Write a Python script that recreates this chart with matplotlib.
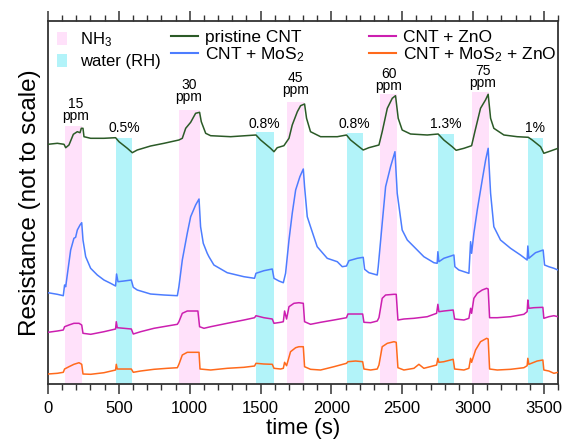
import matplotlib
matplotlib.use('Agg')
import matplotlib.pyplot as plt
from matplotlib.patches import Patch
from matplotlib.lines import Line2D
from matplotlib.ticker import MultipleLocator

plt.rcParams['font.family'] = ['Liberation Sans', 'DejaVu Sans']
plt.rcParams['mathtext.fontset'] = 'custom'
plt.rcParams['mathtext.rm'] = 'Liberation Sans'
plt.rcParams['mathtext.it'] = 'Liberation Sans:italic'

# ---- data (time in s, resistance in arbitrary offset units) ----
t_green = [0, 66, 113, 125, 148, 179, 207, 226, 235, 247, 254, 301, 395, 477, 501, 560, 595, 630,
           724, 819, 924, 948, 972, 1007, 1042, 1070, 1082, 1113, 1148, 1289, 1468, 1501, 1571, 1595,
           1618, 1665, 1701, 1724, 1760, 1783, 1811, 1825, 1853, 1924, 2042, 2107, 2136, 2195, 2225,
           2265, 2336, 2359, 2395, 2430, 2453, 2472, 2500, 2559, 2677, 2754, 2794, 2853, 2881, 2936,
           2990, 3013, 3053, 3088, 3107, 3124, 3147, 3218, 3312, 3390, 3418, 3477, 3500, 3547, 3600]
r_green = [239.7, 240.7, 239.7, 236.3, 239, 249.7, 252.3, 251.3, 255.7, 255.7, 247.3, 245.7, 245.7,
           246.3, 242.3, 235.7, 231.3, 234, 238, 240.7, 244, 245.7, 255.7, 261.7, 270.7, 271.7, 262.3,
           250.7, 248.3, 247.3, 249, 244, 235.7, 232.3, 236.3, 238.3, 245.7, 259, 272.3, 278.3, 280,
           265.7, 252.3, 247.3, 247.3, 249, 244, 237.3, 234, 236.3, 239, 252.3, 275.7, 285.7, 288.3,
           265.7, 254, 250, 249, 250, 244, 237.3, 233.7, 235.7, 238.3, 252.3, 275.7, 284, 289.7, 265.7,
           255.7, 249, 247.3, 246.7, 244, 237.3, 230.7, 233, 235.7]

t_mos2 = [0, 66, 108, 117, 125, 136, 160, 183, 195, 207, 226, 238, 247, 266, 301, 348, 395, 442, 477,
          484, 494, 536, 588, 602, 630, 724, 819, 913, 924, 948, 983, 1007, 1042, 1066, 1077, 1096,
          1124, 1136, 1171, 1265, 1383, 1458, 1468, 1524, 1583, 1595, 1630, 1661, 1677, 1701, 1724,
          1748, 1778, 1802, 1811, 1830, 1853, 1900, 1971, 2042, 2077, 2107, 2124, 2183, 2225, 2235,
          2265, 2324, 2331, 2359, 2383, 2418, 2449, 2465, 2500, 2536, 2583, 2653, 2724, 2747, 2752,
          2759, 2794, 2865, 2872, 2900, 2971, 2983, 2990, 3006, 3030, 3065, 3089, 3107, 3124, 3147,
          3194, 3265, 3335, 3382, 3387, 3394, 3441, 3495, 3505, 3535, 3571, 3600]
r_mos2 = [91.3, 89.7, 88.3, 99, 97.3, 109, 134, 145.7, 146.7, 154, 159, 161.3, 144, 127.3, 115.7, 109,
          104, 100.7, 98, 110, 102.3, 103, 104, 96.7, 94, 90, 89, 88.3, 97.3, 124, 150.7, 167.3, 179,
          185, 157.3, 140.7, 130.7, 127.3, 119, 111.3, 107.3, 105.7, 110.7, 113.3, 115, 105.7, 103,
          101.3, 110.7, 144, 170.7, 194, 207.3, 215, 197.3, 167.3, 157.3, 137.3, 125.7, 122.3, 117.3,
          118, 123.3, 125.7, 126.7, 114.7, 111.3, 109, 117.3, 160.7, 197.3, 217.3, 232.3, 190.7, 154,
          144, 137.3, 127.3, 121.3, 120.7, 132.3, 122.3, 125.7, 129, 117.3, 114, 110.7, 142.3, 130.7,
          150.7, 174, 204, 224, 235.7, 190.7, 157.3, 144, 135.7, 129, 124, 138, 125.7, 131.3, 134,
          119, 117.3, 115.7, 114]

t_zno = [0, 66, 108, 117, 148, 183, 219, 238, 247, 301, 395, 477, 482, 489, 536, 588, 602, 654, 748,
         842, 913, 924, 948, 983, 1019, 1058, 1070, 1101, 1148, 1265, 1383, 1458, 1468, 1524, 1583,
         1595, 1642, 1661, 1670, 1684, 1701, 1736, 1771, 1802, 1811, 1853, 1924, 2018, 2107, 2117,
         2171, 2221, 2230, 2277, 2324, 2336, 2359, 2383, 2442, 2458, 2470, 2512, 2583, 2677, 2743,
         2752, 2759, 2794, 2860, 2870, 2936, 2971, 2983, 2990, 3006, 3030, 3065, 3096, 3107, 3117,
         3171, 3265, 3359, 3382, 3387, 3394, 3429, 3493, 3500, 3535, 3571, 3600]
r_zno = [51.7, 53, 54, 57.3, 59, 60.7, 60.7, 59, 50.7, 49.7, 52.3, 55, 62.3, 56.3, 55.7, 55, 50,
         52.3, 55.7, 58, 59.7, 62.3, 70.7, 73, 73, 73, 57.3, 55.7, 57.3, 60.7, 64, 66.3, 68.3, 66.3,
         65, 60.7, 61.7, 62.3, 73, 65, 77.3, 80.7, 81.3, 80.7, 62.3, 59.7, 61.7, 64, 66.3, 70, 70, 70,
         61.7, 61.3, 63, 66.3, 85.7, 89, 89.7, 89.7, 64, 65, 65.7, 67.3, 70.7, 79.7, 72.3, 73, 74, 65,
         64, 65.7, 75.7, 70.7, 85.7, 90.7, 94, 95.7, 95, 66.3, 66.3, 67.3, 69.7, 72.3, 84, 75.7, 76.3,
         76.7, 65.7, 67.3, 68.3, 67.3]

t_mos2_zno = [0, 66, 108, 117, 148, 183, 219, 238, 247, 301, 395, 477, 482, 489, 536, 588, 602, 654,
              748, 842, 913, 924, 948, 983, 1019, 1066, 1073, 1148, 1265, 1383, 1458, 1468, 1524,
              1583, 1595, 1642, 1661, 1670, 1684, 1712, 1748, 1771, 1802, 1811, 1853, 1924, 2018,
              2107, 2117, 2171, 2221, 2230, 2277, 2324, 2336, 2359, 2395, 2442, 2458, 2470, 2512,
              2583, 2618, 2653, 2743, 2752, 2759, 2794, 2860, 2870, 2936, 2971, 2983, 2990, 3018,
              3053, 3096, 3107, 3117, 3171, 3265, 3359, 3382, 3387, 3394, 3453, 3493, 3500, 3535,
              3571, 3600]
r_mos2_zno = [10, 10.7, 11.7, 15, 17.3, 19.7, 21.3, 19.7, 10, 9.7, 11.3, 14, 19.7, 15, 15, 15, 11.7,
              13, 14.7, 15.7, 16.3, 19.7, 29, 31.7, 31.7, 31.7, 15, 14, 15.7, 16.7, 18, 20.7, 20,
              19.7, 15.7, 15, 15.7, 21.7, 18.3, 32.3, 36.3, 37.3, 37.3, 17.3, 14.7, 14, 17.3, 20.7,
              22.3, 23, 22.3, 15, 14, 15, 19, 37.3, 40.7, 42.3, 41.7, 16.3, 14, 15.7, 19.7, 15.7, 19,
              25.7, 21.7, 22.3, 24.7, 15, 14, 15.7, 25.7, 21.7, 34, 42.3, 45.7, 45, 15, 14, 14.7,
              16.3, 18.3, 25.7, 19.7, 23, 24, 14, 13, 10.7, 11.7]

nh3_start = [120, 925, 1690, 2340, 2990]
nh3_end = [240, 1070, 1805, 2465, 3115]
nh3_top = [258, 274, 282, 290, 292]
water_start = [480, 1465, 2110, 2755, 3390]
water_end = [595, 1595, 2220, 2865, 3495]
water_top = [246, 252, 251, 250, 246]

ppm_labels = ['15', '30', '45', '60', '75']
ppm_x = [195, 995, 1748, 2406, 3070]
ppm_y = [261, 280, 287, 291, 294]
rh_labels = ['0.5%', '0.8%', '0.8%', '1.3%', '1%']
rh_x = [536, 1524, 2159, 2811, 3441]
rh_y = [252, 256, 256, 256, 252]

c_pink = '#ffe1fa'
c_cyan = '#b2f3f9'
c_green = '#2b5a27'
c_blue = '#4d7dff'
c_mag = '#cc1fb0'
c_orange = '#ff6a1c'

fig = plt.figure(figsize=(5.66, 4.42), dpi=100)
ax = fig.add_axes([0.0848, 0.1312, 0.9011, 0.8213])

for s, e, h in zip(nh3_start, nh3_end, nh3_top):
    ax.bar(s, h, width=e - s, bottom=0, align='edge', color=c_pink, linewidth=0, zorder=1)
for s, e, h in zip(water_start, water_end, water_top):
    ax.bar(s, h, width=e - s, bottom=0, align='edge', color=c_cyan, linewidth=0, zorder=1)

lw = 1.1
ax.plot(t_green, r_green, color=c_green, lw=lw, zorder=3)
ax.plot(t_mos2, r_mos2, color=c_blue, lw=lw, zorder=3)
ax.plot(t_zno, r_zno, color=c_mag, lw=lw, zorder=3)
ax.plot(t_mos2_zno, r_mos2_zno, color=c_orange, lw=lw, zorder=3)

for lab, x, y in zip(ppm_labels, ppm_x, ppm_y):
    ax.text(x, y, lab + '\nppm', ha='center', va='bottom', fontsize=10, linespacing=0.85, zorder=4)
for lab, x, y in zip(rh_labels, rh_x, rh_y):
    ax.text(x, y, lab, ha='center', va='baseline', fontsize=10, zorder=4)

ax.set_xlim(0, 3600)
ax.set_ylim(0, 363)
ax.xaxis.set_major_locator(MultipleLocator(500))
ax.xaxis.set_minor_locator(MultipleLocator(100))
ax.tick_params(axis='x', which='both', direction='out', top=True, bottom=True,
               labelsize=12, pad=5, color='#333333')
ax.tick_params(axis='x', which='major', length=7, width=1.1)
ax.tick_params(axis='x', which='minor', length=4, width=1.0)
ax.set_yticks([])
for sp in ax.spines.values():
    sp.set_linewidth(1.3)
    sp.set_color('#333333')

ax.set_xlabel('time (s)', fontsize=16, labelpad=2)
ax.set_ylabel('Resistance (not to scale)', fontsize=17.5, labelpad=5)

patch_handles = [Patch(facecolor=c_pink, edgecolor='none'), Patch(facecolor=c_cyan, edgecolor='none')]
leg1 = ax.legend(patch_handles, ['NH$_\\mathregular{3}$', 'water (RH)'], loc='upper left',
                 bbox_to_anchor=(0.002, 0.997), frameon=False, fontsize=12, borderpad=0,
                 handlelength=0.55, handleheight=0.8, handletextpad=0.8, labelspacing=0.3)
ax.add_artist(leg1)

line_handles = [Line2D([], [], color=c) for c in (c_green, c_blue, c_mag, c_orange)]
line_labels = ['pristine CNT', 'CNT + MoS$_\\mathregular{2}$', 'CNT + ZnO', 'CNT + MoS$_\\mathregular{2}$ + ZnO']
ax.legend(line_handles, line_labels, loc='upper left', bbox_to_anchor=(0.225, 1.0), ncol=2,
          frameon=False, fontsize=12.5, borderpad=0, handlelength=1.53, handletextpad=0.42,
          labelspacing=0.0, columnspacing=3.7)

fig.savefig('out.png', dpi=100)
